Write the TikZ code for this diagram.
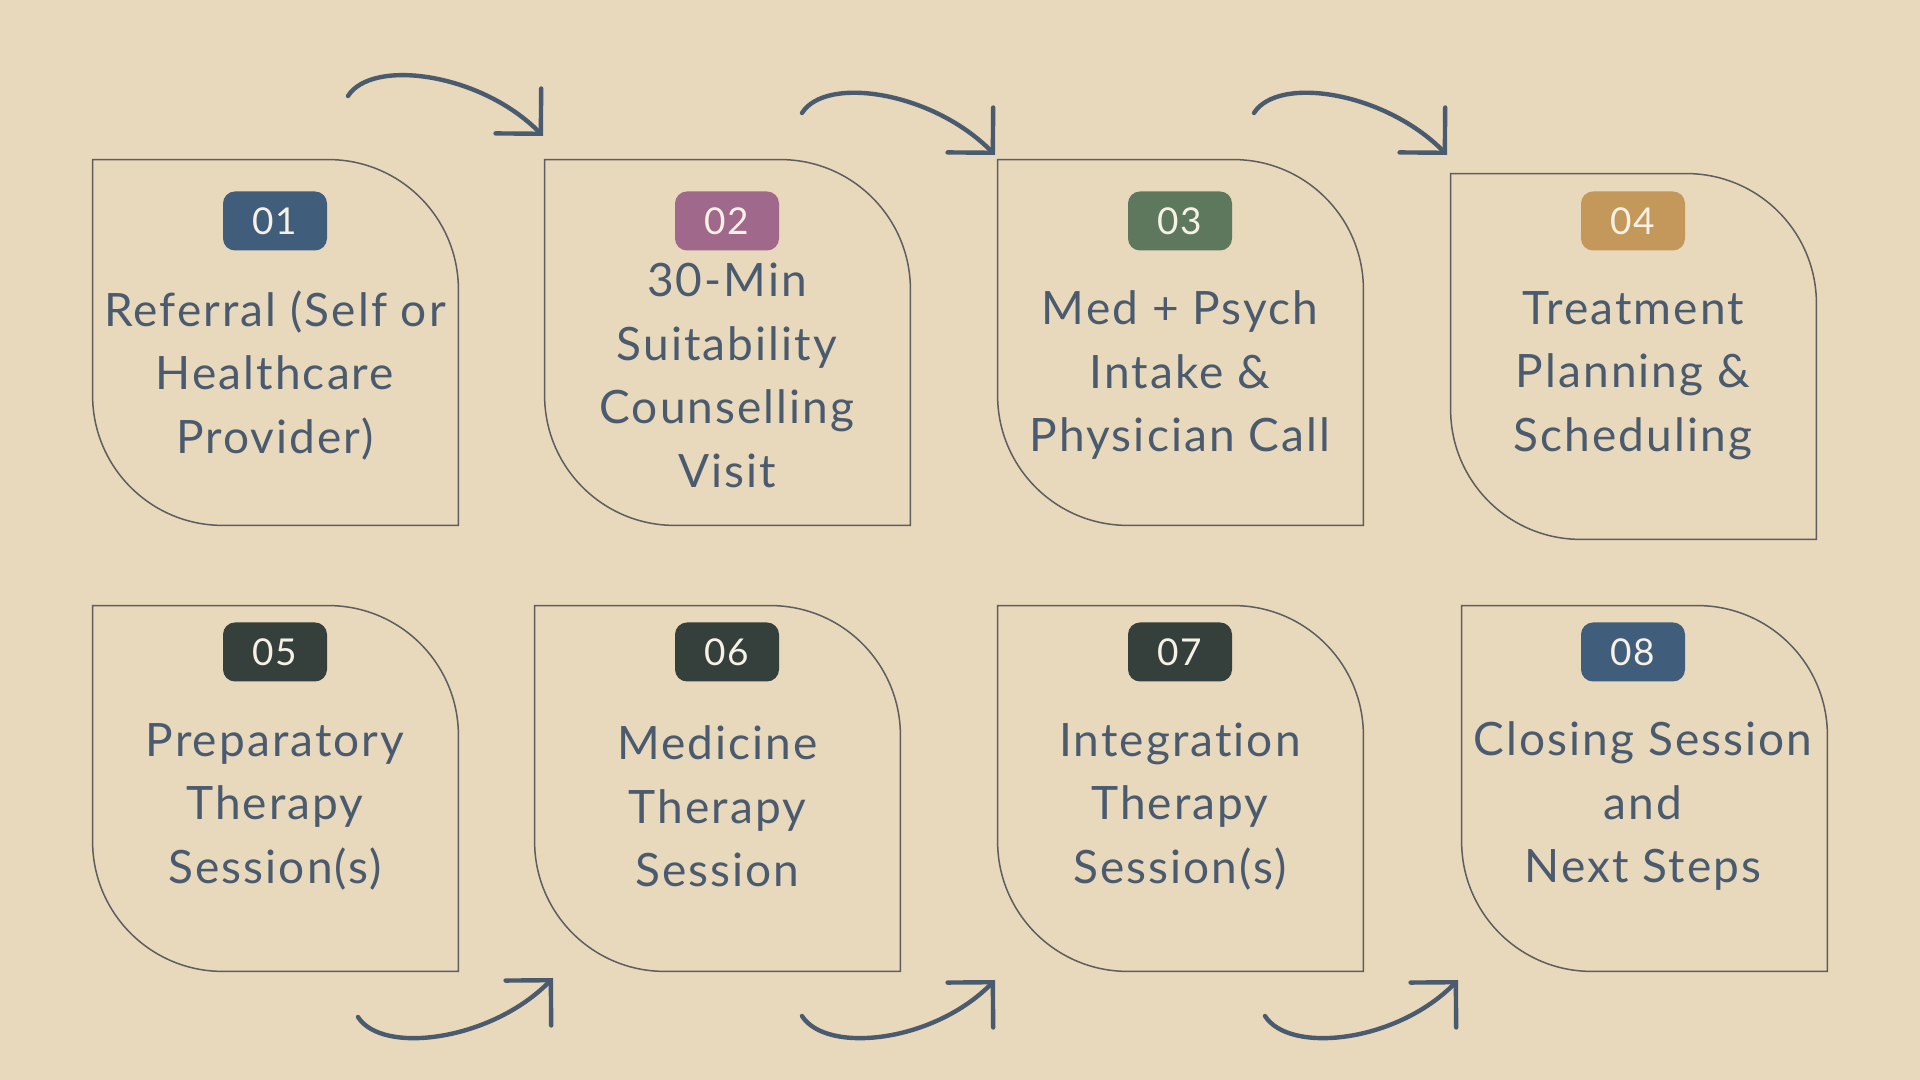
\documentclass[tikz,border=0pt]{standalone}
\usepackage{fontspec}
\usepackage{tikz}
\usepackage{xcolor}
\setmainfont{Lato}[LetterSpace=4.5, Ligatures={NoCommon, NoRare}]
\usetikzlibrary{arrows.meta}

\definecolor{bgsand}{HTML}{E8D8BC}
\definecolor{inkblue}{HTML}{4A5B6F}
\definecolor{framegray}{HTML}{5E5E5E}
\definecolor{tagblue}{HTML}{405D7B}
\definecolor{tagmauve}{HTML}{A0688A}
\definecolor{taggreen}{HTML}{5E785D}
\definecolor{taggold}{HTML}{C4985A}
\definecolor{tagdark}{HTML}{353F3C}
\definecolor{tagtext}{HTML}{F6F1E4}

% card outline: square corners top left / bottom right, round ones elsewhere
\newcommand{\cardframe}[1]{%
  \draw[framegray, line width=0.75pt] (#1.north west) -- ([xshift=-65pt]#1.north east)
    arc[start angle=90, end angle=0, radius=65pt] -- (#1.south east)
    -- ([xshift=65pt]#1.south west) arc[start angle=270, end angle=180, radius=65pt] -- cycle;}

\tikzset{
  cardbox/.style={minimum size=182.5pt, inner sep=0pt},
  steptag/.style={fill=#1, rounded corners=6pt, minimum width=52pt, minimum height=29.5pt,
    inner sep=0pt, text=tagtext, font=\fontsize{18.5}{20}\selectfont},
  steptext/.style={text=inkblue, align=center, font=\fontsize{23}{31.75}\selectfont},
  flowarrow/.style={inkblue, line width=2.2pt, line cap=round,
    -{Straight Barb[length=16pt, width=32pt, line cap=round]}}
}

\begin{document}
\begin{tikzpicture}[x=0.5pt, y=0.5pt]
    \fill[bgsand] (0,0) rectangle (1920,1080);
    \useasboundingbox (0,0) rectangle (1920,1080);

    % Cards
    \node[cardbox] (c1) at (275.5,737.5) {};
    \node[cardbox] (c2) at (727.5,737.5) {};
    \node[cardbox] (c3) at (1180.5,737.5) {};
    \node[cardbox] (c4) at (1633.5,723.5) {};
    \node[cardbox] (c5) at (275.5,291.5) {};
    \node[cardbox] (c6) at (717.5,291.5) {};
    \node[cardbox] (c7) at (1180.5,291.5) {};
    \node[cardbox] (c8) at (1644.5,291.5) {};
    \cardframe{c1} \cardframe{c2} \cardframe{c3} \cardframe{c4}
    \cardframe{c5} \cardframe{c6} \cardframe{c7} \cardframe{c8}

    % Number tags
    \node[steptag=tagblue]  (t1) at (275,859) {01};
    \node[steptag=tagmauve] (t2) at (727,859) {02};
    \node[steptag=taggreen] (t3) at (1180,859) {03};
    \node[steptag=taggold]  (t4) at (1633,859) {04};
    \node[steptag=tagdark]  (t5) at (275,428) {05};
    \node[steptag=tagdark]  (t6) at (727,428) {06};
    \node[steptag=tagdark]  (t7) at (1180,428) {07};
    \node[steptag=tagblue]  (t8) at (1633,428) {08};

    % Step labels
    \node[steptext] (s1) at (275,704.5) {Referral (Self or\\Healthcare\\Provider)};
    \node[steptext] (s2) at (727,704.5) {30-Min\\Suitability\\Counselling\\Visit};
    \node[steptext] (s3) at (1180,704.5) {Med + Psych\\Intake \&\\Physician Call};
    \node[steptext] (s4) at (1633,704.5) {Treatment\\Planning \&\\Scheduling};
    \node[steptext] (s5) at (275,273.5) {Preparatory\\Therapy\\Session(s)};
    \node[steptext] (s6) at (717.5,273.5) {Medicine\\Therapy\\Session};
    \node[steptext] (s7) at (1180,273.5) {Integration\\Therapy\\Session(s)};
    \node[steptext] (s8) at (1643,273.5) {Closing Session\\and\\Next Steps};

    % Arrows between the cards
    \coordinate (a1s) at (348,984);  \coordinate (a1e) at (543,944);
    \coordinate (a2s) at (802,967);  \coordinate (a2e) at (995,925);
    \coordinate (a3s) at (1254,967); \coordinate (a3e) at (1447,925);
    \coordinate (b1s) at (358,63);   \coordinate (b1e) at (553,102);
    \coordinate (b2s) at (802,64);   \coordinate (b2e) at (995,100);
    \coordinate (b3s) at (1265,64);  \coordinate (b3e) at (1458,100);
    \draw[flowarrow] (a1s) .. controls +(24,38) and +(-62,63) .. (a1e);
    \draw[flowarrow] (a2s) .. controls +(24,38) and +(-62,63) .. (a2e);
    \draw[flowarrow] (a3s) .. controls +(24,38) and +(-62,63) .. (a3e);
    \draw[flowarrow] (b1s) .. controls +(24,-38) and +(-62,-63) .. (b1e);
    \draw[flowarrow] (b2s) .. controls +(24,-38) and +(-62,-63) .. (b2e);
    \draw[flowarrow] (b3s) .. controls +(24,-38) and +(-62,-63) .. (b3e);
\end{tikzpicture}
\end{document}
